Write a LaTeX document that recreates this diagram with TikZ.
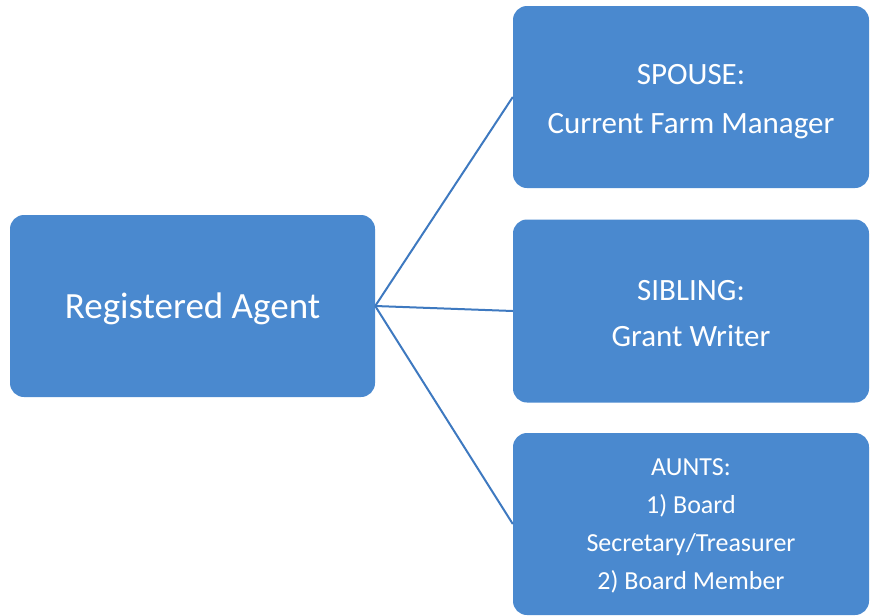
\documentclass[tikz,border=0pt]{standalone}
\usepackage{fontspec}
\setmainfont{Carlito}
\definecolor{boxblue}{RGB}{74,137,207}
\definecolor{lineblue}{RGB}{62,121,192}
\begin{document}
\begin{tikzpicture}[x=1pt,y=-1pt,
  box/.style={fill=boxblue, draw=none, rounded corners=14pt, inner sep=0pt},
  lbl/.style={text=white, align=center, inner sep=0pt},
  conn/.style={draw=lineblue, line width=2pt}]
\useasboundingbox (0,0) rectangle (871,616);
\node[box, minimum width=365pt, minimum height=182pt] (ra) at (192.5,306) {};
\node[box, minimum width=356pt, minimum height=182pt] (spouse) at (691,97) {};
\node[box, minimum width=356pt, minimum height=183pt] (sibling) at (691,311) {};
\node[box, minimum width=356pt, minimum height=182pt] (aunts) at (691,524) {};
\node[lbl, font={\fontsize{37}{44}\selectfont}] (ratext) at ([yshift=-3pt]ra.center) {Registered Agent};
\node[lbl, font={\fontsize{31}{49}\selectfont}] (spousetext) at ([yshift=-5pt]spouse.center) {SPOUSE:\\Current Farm Manager};
\node[lbl, font={\fontsize{31}{46}\selectfont}] (siblingtext) at ([yshift=-3pt]sibling.center) {SIBLING:\\Grant Writer};
\node[lbl, font={\fontsize{26}{38}\selectfont}] (auntstext) at ([yshift=-2pt]aunts.center) {AUNTS:\\1) Board\\Secretary/Treasurer\\2) Board Member};
\draw[conn] (ra.east) -- (spouse.west);
\draw[conn] (ra.east) -- (sibling.west);
\draw[conn] (ra.east) -- (aunts.west);
\end{tikzpicture}
\end{document}
